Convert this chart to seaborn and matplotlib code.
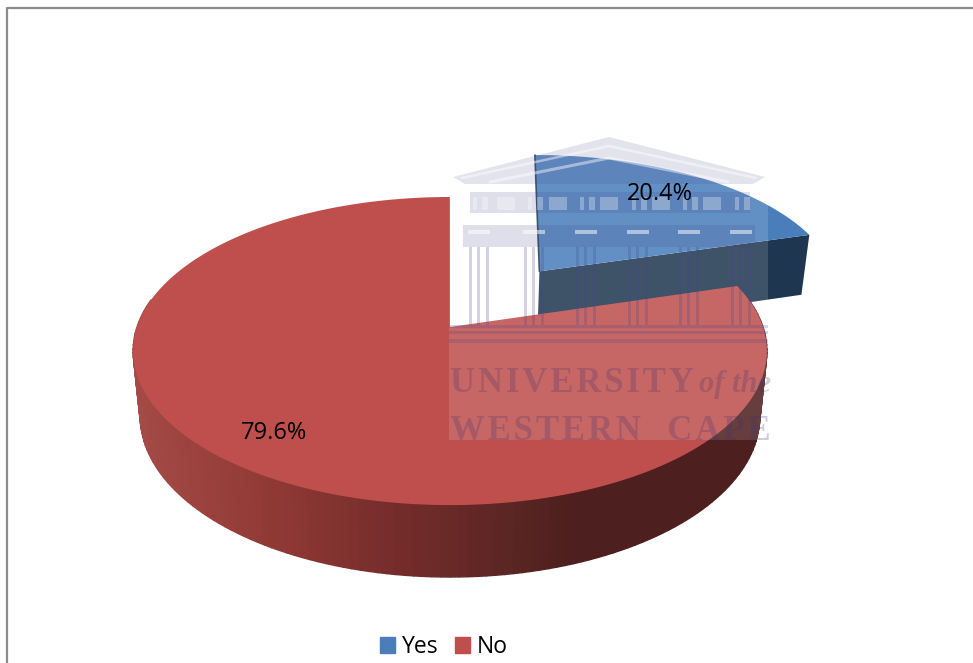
import numpy as np
import seaborn as sns
import matplotlib.pyplot as plt
from matplotlib.patches import Patch, Rectangle

# Data
labels = ['Yes', 'No']
shares = [20.4, 79.6]
explode = [0.49, 0]
slice_colors = ['#4a7ebb', '#be4f4c']

sns.set_style('white')
plt.rcParams['font.family'] = ['Open Sans', 'DejaVu Sans']

fig, ax = plt.subplots(figsize=(9.73, 6.63), dpi=100)
fig.subplots_adjust(0, 0, 1, 1)

wedges, _, pct_texts = ax.pie(shares, explode=explode, colors=slice_colors, startangle=90,
                              counterclock=False, autopct='%.1f%%')

# the pie lives on a unit disc, take the angles from it and redraw with perspective
ax.set_aspect('auto')
ax.set_xlim(0, 973)
ax.set_ylim(663, 0)
ax.axis('off')

K = 0.156


def top_face(u, v, x0=450, shear=0.0):
    d = 1 + K * v
    return x0 + (313 * u + shear) / d, 327 - 150.3 * v / d


def bottom_face(u, v, x0=450, shear=0.0):
    d = 1 + K * v
    return x0 + (306 * u + shear) / d, 391 - 157 * v / d


def arc(w, n=200):
    t = np.radians(np.linspace(w.theta1, w.theta2, n))
    return w.center[0] + w.r * np.cos(t), w.center[1] + w.r * np.sin(t)


def side_color(x):
    xs = [131, 230, 300, 400, 500, 570, 770]
    r = np.interp(x, xs, [165, 150, 138, 115, 92, 77, 77])
    g = np.interp(x, xs, [75, 62, 54, 44, 38, 31, 31])
    b = np.interp(x, xs, [72, 58, 50, 42, 36, 30, 30])
    return (r / 255, g / 255, b / 255)


yes, no = wedges
yes_u, yes_v = arc(yes)
no_u, no_v = arc(no)
for w in wedges:
    w.remove()

# Yes slice, the shear leans its left edge like in the original
cu, cv = yes.center
sh_arc = 8 * (yes_v - cv)
bx, by = bottom_face(yes_u, yes_v, 453, sh_arc)
tx, ty = top_face(yes_u, yes_v, 453, sh_arc)
ax_cx, ax_cy = top_face(cu, cv, 453)
bx_cx, bx_cy = bottom_face(cu, cv, 453)
# radial side facing the viewer (theta1 end of the arc is on the right)
ax.fill([ax_cx, tx[0], bx[0], bx_cx], [ax_cy, ty[0], by[0], bx_cy], color='#1f3650', lw=0, zorder=2)
ax.fill(np.r_[ax_cx, tx], np.r_[ax_cy, ty], color=slice_colors[0], lw=0, zorder=3)
ax.plot([ax_cx, tx[-1]], [ax_cy, ty[-1]], color='#1f3650', lw=1.2, zorder=3)

# No slice, rim made of thin quads so it can shade from left to right
tx, ty = top_face(no_u, no_v)
bx, by = bottom_face(no_u, no_v)
for i in range(len(tx) - 1):
    # the back of the rim is hidden by the top face
    if no_v[i] > 0.2:
        continue
    c = side_color((tx[i] + bx[i]) / 2)
    ax.fill([tx[i], tx[i + 1], bx[i + 1], bx[i]], [ty[i], ty[i + 1], by[i + 1], by[i]],
            facecolor=c, edgecolor=c, lw=1.0, zorder=4)
cx, cy = top_face(*no.center)
ax.fill(np.r_[cx, tx], np.r_[cy, ty], color=slice_colors[1], lw=0, zorder=5)

# Watermark over the chart
ink = '#43468f'
text_ink = '#40306f'
ax.add_patch(Rectangle((449, 138), 319, 302, color='white', alpha=0.14, lw=0, zorder=6))


def band(x1, y1, x2, y2, alpha=0.17):
    ax.add_patch(Rectangle((x1, y1), x2 - x1, y2 - y1, color=ink, alpha=alpha, lw=0, zorder=7))


def gap(x1, y1, x2, y2, alpha=0.3):
    ax.add_patch(Rectangle((x1, y1), x2 - x1, y2 - y1, color='white', alpha=alpha, lw=0, zorder=8))


ax.fill([453, 609, 765, 753, 465], [177, 137, 177, 184, 184], color=ink, alpha=0.15, lw=0, zorder=7)
ax.plot([462, 609, 756], [178, 146, 178], color='white', alpha=0.45, lw=1.8, zorder=8)
ax.plot([490, 609, 728], [182, 158, 182], color='white', alpha=0.45, lw=2.2, zorder=8)
band(470, 192, 750, 213)
band(463, 225, 755, 247)
for x in [497, 549, 600, 652, 703]:
    gap(x, 197, x + 18, 210)
for x in [468, 523, 575, 627, 678, 730]:
    gap(x + 5, 197, x + 9, 210)
    gap(x + 14, 197, x + 20, 210)
    gap(x, 230, x + 22, 234, 0.5)
    for dx in [1, 9, 18]:
        band(x + dx, 247, x + dx + 3, 325, 0.24)
for y1, y2 in [(325, 328), (331, 334), (339, 343)]:
    band(449, y1, 768, y2, 0.22)

serif = ['Liberation Serif', 'DejaVu Serif']
hair = '\u200a'
ax.text(450, 392, hair.join('UNIVERSITY'), family=serif, weight='bold', fontsize=25, color=text_ink,
        alpha=0.25, zorder=7)
ax.text(699, 392, 'of the', family=serif, style='italic', weight='bold', fontsize=22, color=text_ink,
        alpha=0.25, zorder=7)
ax.text(450, 440, hair.join('WESTERN') + '   ' + hair.join('CAPE'), family=serif, weight='bold',
        fontsize=25, color=text_ink, alpha=0.25, zorder=7)

# Data labels
pct_texts[0].set_position((660, 194))
pct_texts[1].set_position((274, 433))
for t in pct_texts:
    t.set_fontsize(17)
    t.set_color('black')
    t.set_zorder(9)

# Chart border, only left and top survive the crop
ax.plot([7, 7, 973], [663, 8, 8], color='#8c8c8c', lw=1.6, zorder=1)

handles = [Patch(color=c, label=l) for c, l in zip(slice_colors, labels)]
ax.legend(handles=handles, loc='center', bbox_to_anchor=(444, 647), bbox_transform=ax.transData,
          ncol=2, frameon=False, fontsize=16.5, labelcolor='black', handlelength=0.65,
          handleheight=0.65, handletextpad=0.3, columnspacing=0.75)

fig.savefig('out.png', dpi=100)
